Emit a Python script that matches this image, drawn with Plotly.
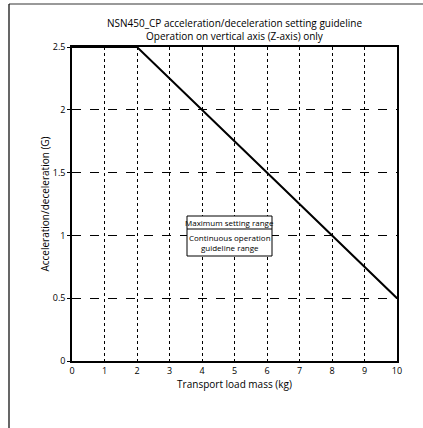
import plotly.graph_objects as go

mass_kg = [0, 2, 10]
accel_g = [2.5, 2.5, 0.5]
x_ticks = [0, 1, 2, 3, 4, 5, 6, 7, 8, 9, 10]
y_ticks = [0, 0.5, 1, 1.5, 2, 2.5]
y_tick_labels = ["0", "0.5", "1", "1.5", "2", "2.5"]
title_lines = ["NSN450_CP acceleration/deceleration setting guideline",
               "Operation on vertical axis (Z-axis) only"]
legend_top = "Maximum setting range"
legend_bottom = "Continuous operation<br>guideline range"

W, H = 423, 428
L, R, T, B = 72, 26, 47, 67
pw, ph = W - L - R, H - T - B

def px(xp):
    return (xp - L) / pw

def py(yp):
    return (H - B - yp) / ph

FONT = "Open Sans"

fig = go.Figure()
fig.add_trace(go.Scatter(x=mass_kg, y=accel_g, mode="lines",
                         line=dict(color="black", width=2), showlegend=False,
                         hoverinfo="skip"))

fig.update_layout(
    width=W, height=H,
    margin=dict(l=L, r=R, t=T, b=B),
    paper_bgcolor="white", plot_bgcolor="white",
    font=dict(family=FONT, size=9, color="black"),
    showlegend=False,
    xaxis=dict(range=[0, 10], tickvals=x_ticks, showgrid=True, gridcolor="black",
               griddash="dot", gridwidth=1, zeroline=False, showline=True,
               linecolor="black", linewidth=1.5, mirror=True, ticks="",
               tickfont=dict(size=9), fixedrange=True,
               title=dict(text="Transport load mass (kg)", font=dict(size=10), standoff=4)),
    yaxis=dict(range=[0, 2.5], tickvals=y_ticks, ticktext=y_tick_labels, showgrid=True,
               gridcolor="black", griddash="dash", gridwidth=1, zeroline=False,
               showline=True, linecolor="black", linewidth=1.5, mirror=True,
               ticks="outside", ticklen=3, tickcolor="black",
               tickfont=dict(size=9), fixedrange=True,
               title=dict(text="Acceleration/deceleration (G)", font=dict(size=10), standoff=1)),
)

# title lines
fig.add_annotation(text=title_lines[0], xref="paper", yref="paper", x=0.5, y=py(23),
                   showarrow=False, font=dict(size=10), yanchor="middle")
fig.add_annotation(text=title_lines[1], xref="paper", yref="paper", x=0.5, y=py(36.5),
                   showarrow=False, font=dict(size=10), yanchor="middle")

# outer frame lines
fig.add_shape(type="line", xref="paper", yref="paper", x0=px(9), x1=px(423), y0=py(4), y1=py(4),
              line=dict(color="#777777", width=1.5))
fig.add_shape(type="line", xref="paper", yref="paper", x0=px(9), x1=px(9), y0=py(4), y1=py(428),
              line=dict(color="black", width=1.2))

# legend box
bx0, bx1, by0, bym, by1 = 187, 272, 216, 229, 256
fig.add_shape(type="rect", xref="paper", yref="paper", x0=px(bx0), x1=px(bx1),
              y0=py(by1), y1=py(by0), fillcolor="white", line=dict(color="black", width=1),
              layer="above")
fig.add_shape(type="line", xref="paper", yref="paper", x0=px(bx0), x1=px(bx1),
              y0=py(bym), y1=py(bym), line=dict(color="black", width=1), layer="above")
fig.add_annotation(text=legend_top, xref="paper", yref="paper", x=px((bx0 + bx1) / 2),
                   y=py((by0 + bym) / 2), showarrow=False, font=dict(size=8, family=FONT),
                   yanchor="middle")
fig.add_annotation(text=legend_bottom, xref="paper", yref="paper", x=px((bx0 + bx1) / 2),
                   y=py((bym + by1) / 2), showarrow=False, font=dict(size=8, family=FONT),
                   yanchor="middle")

fig.write_html("out.html")
